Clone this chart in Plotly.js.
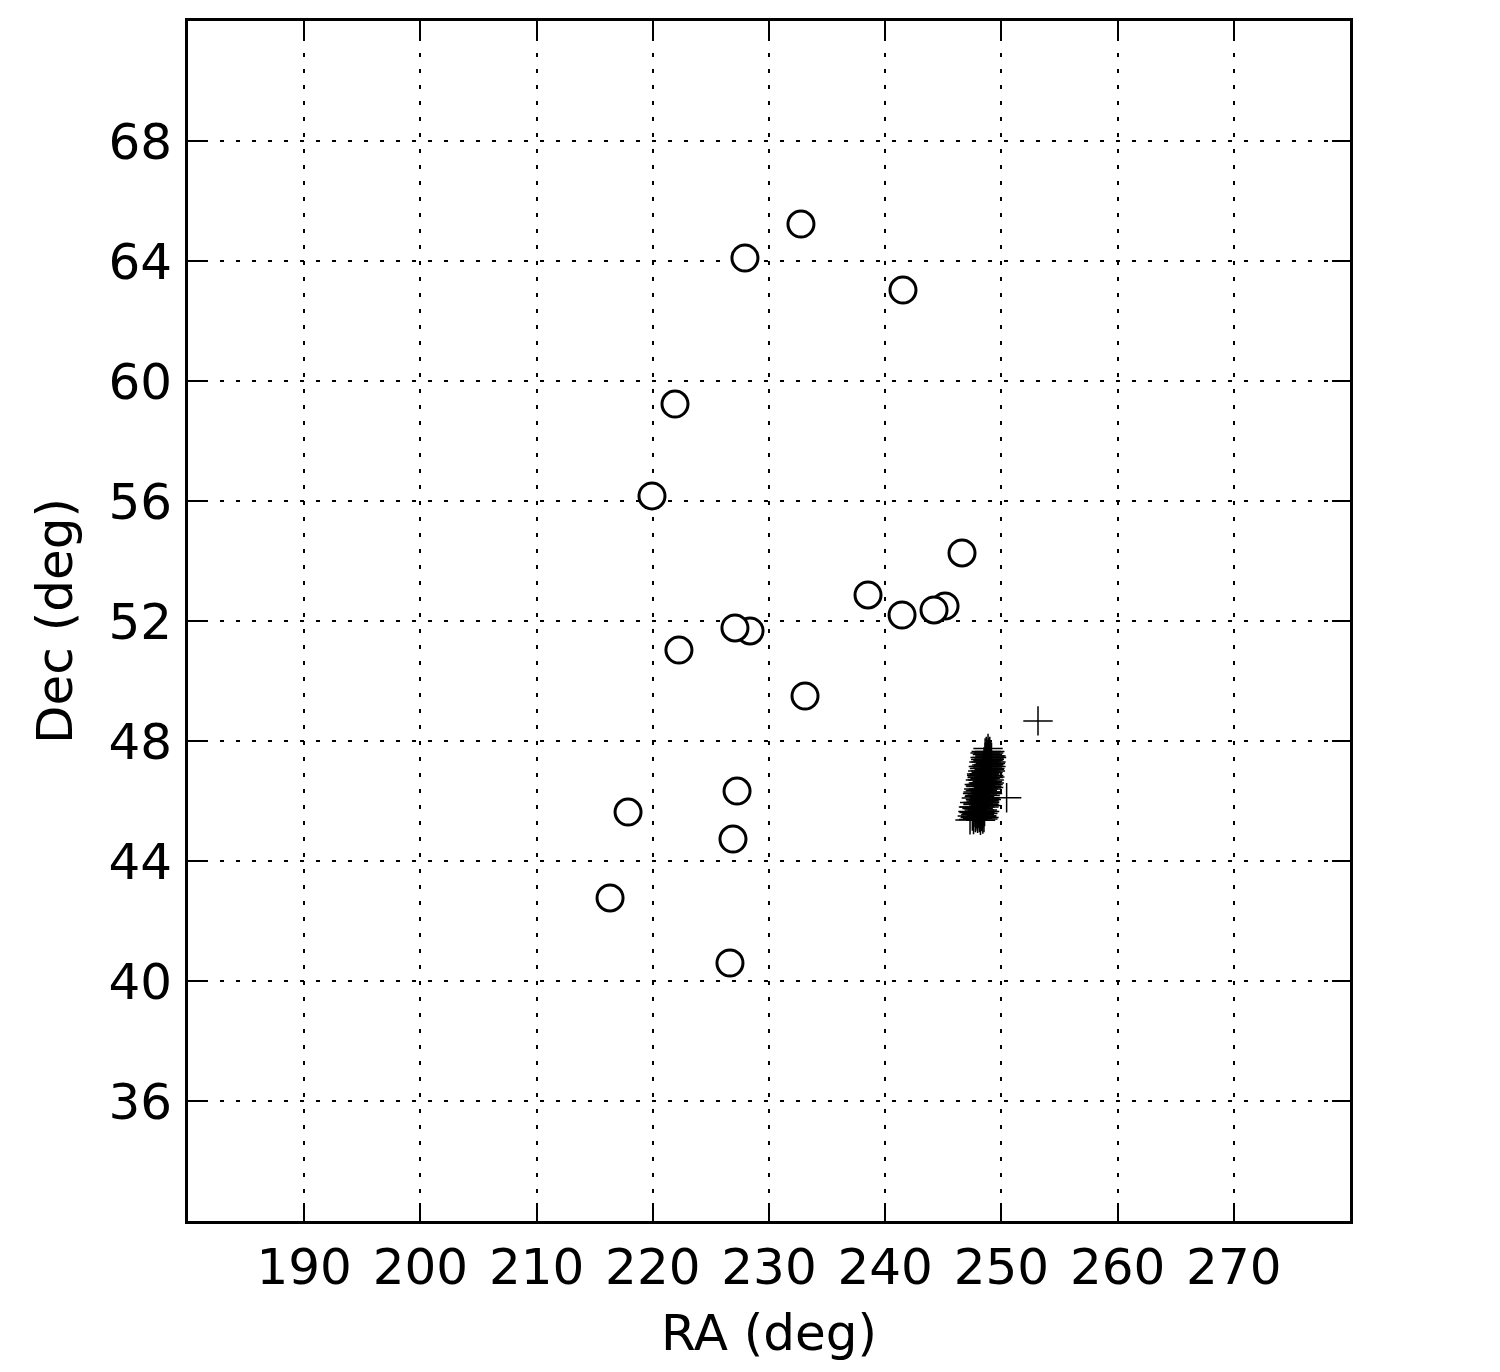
<!DOCTYPE html>
<html>
<head>
<meta charset="utf-8">
<script src="https://cdn.plot.ly/plotly-3.0.1.min.js"></script>
<style>
  body { margin: 0; background: #fff; }
  #chart { width: 1500px; height: 1372px; }
</style>
</head>
<body>
<div id="chart"></div>
<script>
// open circles (RA, Dec)
var circleRA  = [232.75, 227.93, 241.53, 221.91, 219.93, 246.61, 238.52, 241.45, 245.15, 244.2, 228.37, 227.07, 222.25, 233.1, 227.25, 217.87, 226.9, 216.32, 226.64];
var circleDec = [65.23, 64.1, 63.03, 59.23, 56.17, 54.27, 52.87, 52.2, 52.5, 52.37, 51.67, 51.77, 51.03, 49.5, 46.33, 45.63, 44.73, 42.77, 40.6];

// plus markers (RA, Dec)
var plusRA = [253.15, 250.45,
  248.85, 248.9, 248.8, 249.0, 248.75, 248.95, 248.85, 248.7, 249.05, 248.9,
  248.6, 248.8, 248.95, 248.65, 248.85, 248.5, 248.75, 249.0, 248.6, 248.4,
  248.8, 248.55, 248.3, 248.7, 248.9, 248.45, 248.2, 248.6, 248.8, 248.35,
  248.1, 248.5, 248.7, 248.25, 248.0, 248.45, 248.65, 248.15, 247.9, 248.35,
  248.55, 248.05, 247.8, 248.3, 248.5, 247.95, 247.6, 248.2, 247.3, 248.4,
  248.6, 249.1, 248.7, 248.4, 248.95, 248.2, 248.55, 248.1, 247.7, 248.75,
  248.3, 248.0,
  248.7, 249.0, 248.6, 249.15, 248.5, 249.1, 248.45, 249.1, 248.4, 249.05,
  248.3, 248.9, 248.2, 248.95, 248.1, 248.85, 248.05, 248.7, 247.95, 248.65,
  247.85, 248.6, 247.7, 248.55, 247.6, 248.5, 247.55, 248.4, 247.5, 248.3,
  247.75, 248.1, 248.75, 248.55, 248.45, 248.35, 248.2, 248.0, 248.1,
  248.95, 248.65, 249.0, 248.55, 248.85, 248.35, 248.75, 248.25, 248.6, 248.15,
  248.5, 248.0, 248.4, 247.9, 248.25, 247.8, 248.15, 247.65, 248.0, 248.9,
  248.7, 248.45];
var plusDec = [48.67, 46.11,
  47.75, 47.6, 47.55, 47.5, 47.45, 47.4, 47.35, 47.3, 47.25, 47.2,
  47.15, 47.1, 47.05, 47.0, 46.95, 46.9, 46.85, 46.8, 46.75, 46.7,
  46.65, 46.6, 46.55, 46.5, 46.45, 46.4, 46.35, 46.3, 46.25, 46.2,
  46.15, 46.1, 46.05, 46.0, 45.95, 45.9, 45.85, 45.8, 45.75, 45.7,
  45.65, 45.6, 45.55, 45.5, 45.45, 45.42, 45.38, 45.36, 45.37, 45.4,
  47.6, 47.5, 46.95, 46.8, 46.6, 46.5, 46.0, 45.7, 45.8, 46.3,
  46.9, 46.3,
  47.65, 47.65, 47.45, 47.45, 47.3, 47.3, 47.15, 47.15, 47.0, 47.0,
  46.85, 46.85, 46.7, 46.7, 46.55, 46.55, 46.4, 46.4, 46.25, 46.25,
  46.1, 46.1, 45.95, 45.95, 45.8, 45.8, 45.65, 45.65, 45.5, 45.5,
  45.45, 45.45, 47.2, 46.9, 46.6, 46.35, 46.05, 45.75, 45.55,
  47.38, 47.38, 47.08, 47.08, 46.78, 46.78, 46.48, 46.48, 46.18, 46.18,
  45.88, 45.88, 45.58, 45.58, 45.48, 45.48, 45.62, 45.62, 45.9, 47.22,
  46.62, 46.02];

var xTicks = [190, 200, 210, 220, 230, 240, 250, 260, 270];
var yTicks = [36, 40, 44, 48, 52, 56, 60, 64, 68];

var font = 'DejaVu Sans, sans-serif';

var plus = {
    x: plusRA, y: plusDec,
    mode: 'markers',
    type: 'scatter',
    marker: {
        symbol: 'cross-thin',
        size: 21,
        color: 'black',
        line: {color: 'black', width: 1.5}
    },
    hoverinfo: 'x+y'
};

var circles = {
    x: circleRA, y: circleDec,
    mode: 'markers',
    type: 'scatter',
    marker: {
        symbol: 'circle',
        size: 26,
        color: 'white',
        line: {color: 'black', width: 3}
    },
    hoverinfo: 'x+y'
};

var axisCommon = {
    ticks: 'inside',
    ticklen: 18,
    tickwidth: 2,
    tickcolor: 'black',
    showline: true,
    linewidth: 3,
    linecolor: 'black',
    mirror: 'ticks',
    showgrid: true,
    gridcolor: 'black',
    gridwidth: 2,
    griddash: '4px,12px',
    zeroline: false,
    tickfont: {family: font, size: 50, color: 'black'}
};

var layout = {
    width: 1500,
    height: 1372,
    showlegend: false,
    paper_bgcolor: 'white',
    plot_bgcolor: 'white',
    margin: {l: 188, r: 150, t: 21, b: 151},
    xaxis: Object.assign({}, axisCommon, {
        range: [180, 280],
        tickvals: xTicks,
        ticktext: xTicks.map(String),
        title: {text: 'RA (deg)', font: {family: font, size: 50, color: 'black'}, standoff: 20}
    }),
    yaxis: Object.assign({}, axisCommon, {
        range: [32, 72],
        tickvals: yTicks,
        ticktext: yTicks.map(String),
        ticklabelstandoff: 3,
        title: {text: 'Dec (deg)', font: {family: font, size: 50, color: 'black'}, standoff: 20}
    })
};

Plotly.newPlot('chart', [plus, circles], layout, {staticPlot: true});
</script>
</body>
</html>
